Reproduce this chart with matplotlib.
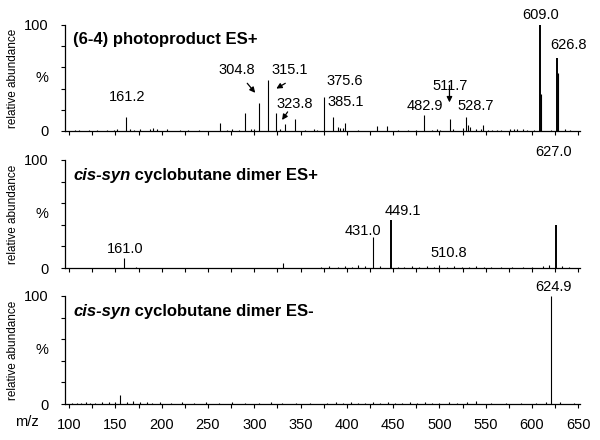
import matplotlib
matplotlib.use('Agg')
import matplotlib.pyplot as plt
from matplotlib.transforms import blended_transform_factory

plt.rcParams['font.family'] = ['Liberation Sans', 'DejaVu Sans']

# ---- data (m/z, relative abundance %) ----
top_mz = [106, 111, 121, 130, 141, 148, 152, 161.2, 166, 170, 177, 187, 191, 195, 206,
          220, 228, 240, 263, 270, 276, 283, 290, 296, 300, 304.8, 315.1, 323.8, 328,
          333, 344, 355, 364, 368, 375.6, 385.1, 390, 393, 396, 398, 412, 432, 443,
          455, 466, 475, 482.9, 492, 497, 501, 511.7, 515, 525, 528.7, 531, 533, 539,
          545, 547, 552, 557, 562, 566, 576, 580, 584, 590, 595, 602, 609.0, 609.8,
          620, 626.8, 627.6, 636, 641]
top_int = [1, 1, 1, 1, 1, 1, 2, 13, 2, 1, 2, 2, 3, 2, 2,
           1, 1, 1, 8, 1, 2, 1, 17, 2, 2, 26, 48, 17, 2,
           7, 11, 1, 2, 1, 32, 13, 4, 3, 3, 8, 1, 5, 5,
           1, 1, 1, 15, 1, 2, 1, 11, 2, 3, 13, 6, 4, 2,
           2, 6, 1, 1, 1, 1, 2, 2, 2, 2, 1, 1, 100, 35,
           1, 69, 55, 2, 1]

mid_mz = [159.5, 172, 331, 372, 381, 390, 398, 405, 412, 420, 428.6, 436, 448, 455,
          462, 470, 478, 486, 494, 500, 508, 516, 524, 532, 540, 548, 556, 566, 578,
          590, 600, 612, 618, 625.5, 632, 640]
mid_int = [9, 1, 5, 1, 2, 1, 2, 1, 3, 2, 29, 2, 44, 1,
           1, 2, 1, 2, 1, 3, 1, 2, 1, 1, 2, 1, 1, 1, 1,
           1, 1, 2, 3, 40, 2, 1]

bot_mz = [103, 108, 113, 118, 123, 128, 136, 143, 150, 155, 162, 169, 177, 184, 190,
          198, 210, 222, 235, 248, 262, 276, 290, 305, 318, 330, 345, 360, 379, 388,
          396, 404, 412, 420, 428, 436, 444, 452, 460, 468, 476, 484, 492, 500, 510,
          519, 530, 540, 556, 572, 588, 604, 615, 621, 630, 645]
bot_int = [1, 1, 1, 2, 1, 1, 2, 2, 2, 8, 2, 3, 2, 2, 1,
           2, 1, 2, 1, 2, 1, 2, 1, 1, 2, 1, 1, 1, 1, 2,
           1, 2, 1, 1, 2, 1, 2, 1, 1, 2, 1, 2, 1, 1, 2,
           1, 2, 3, 1, 1, 1, 1, 2, 100, 2, 1]

thick_peaks = [609.0, 626.8, 448, 625.5]

# label text, x (m/z), y (%)
top_labels = [('161.2', 162.7, 32), ('304.8', 281.5, 58), ('315.1', 338, 58),
              ('323.8', 344, 25), ('375.6', 398, 47), ('385.1', 399, 27),
              ('511.7', 511, 42), ('482.9', 484, 24), ('528.7', 539, 24),
              ('609.0', 609, 109), ('626.8', 639.5, 81)]
mid_labels = [('161.0', 160.5, 18), ('431.0', 417, 34), ('449.1', 460, 53),
              ('510.8', 509.7, 14), ('627.0', 623, 107)]
bot_labels = [('624.9', 623, 108)]

# arrows: (from m/z, from %, to m/z, to %)
top_arrows = [(292.4, 45, 301, 36), (333.5, 45, 323.8, 40),
              (336, 18, 330, 10.4), (510.8, 43, 510.8, 27)]

xticks_major = list(range(100, 651, 50))
xticks_minor = list(range(100, 651, 25))

fig = plt.figure(figsize=(6, 4.4), dpi=100)
rects = [[0.109, 0.7023, 0.858, 0.2409],
         [0.109, 0.3909, 0.858, 0.2455],
         [0.109, 0.0818, 0.858, 0.2455]]
panels = [(top_mz, top_int, top_labels),
          (mid_mz, mid_int, mid_labels),
          (bot_mz, bot_int, bot_labels)]
axes = []
for i, (rect, (mz, inten, labels)) in enumerate(zip(rects, panels)):
    ax = fig.add_axes(rect)
    axes.append(ax)
    for m, v in zip(mz, inten):
        lw = 1.4 if m in thick_peaks else 0.8
        ax.vlines(m, 0, v, color='k', lw=lw)
    for txt, x, y in labels:
        ax.text(x, y, txt, ha='center', va='center', fontsize=10.5, clip_on=False)
    ax.set_xlim(96, 652)
    ax.set_ylim(0, 100)
    for s in ['top', 'right']:
        ax.spines[s].set_visible(False)
    ax.spines['left'].set_linewidth(0.9)
    ax.spines['bottom'].set_linewidth(0.9)
    ax.set_yticks([0, 20, 40, 60, 80, 100])
    ax.set_yticklabels(['0', '', '', '', '', '100'], fontsize=10.5)
    ax.tick_params(axis='y', length=3, width=0.8, pad=9)
    ax.text(-0.033, 0.5, '%', transform=ax.transAxes, ha='right', va='center', fontsize=10.5)
    trans = blended_transform_factory(fig.transFigure, ax.transAxes)
    ax.text(0.021, 0.5, 'relative abundance', transform=trans, rotation=90,
            ha='center', va='center', fontsize=8.5)
    ax.set_xticks(xticks_major)
    ax.set_xticks(xticks_minor, minor=True)
    ax.tick_params(axis='x', which='both', length=3, width=0.8, direction='out')
    if i < 2:
        ax.set_xticklabels([])
    else:
        ax.set_xticklabels([str(t) for t in xticks_major], fontsize=10.5)
        ax.tick_params(axis='x', pad=7)

axes[0].text(0.015, 0.86, '(6-4) photoproduct ES+', transform=axes[0].transAxes,
             fontsize=12, fontweight='bold', va='center')
for ax in axes[1:]:
    t1 = ax.text(0.015, 0.86, 'cis-syn', transform=ax.transAxes, fontsize=12,
                 fontweight='bold', style='italic', va='center')
    sign = '+' if ax is axes[1] else '-'
    ax.annotate(' cyclobutane dimer ES' + sign, xy=(1, 0), xycoords=t1,
                fontsize=12, fontweight='bold', va='bottom', ha='left')

for x0, y0, x1, y1 in top_arrows:
    axes[0].annotate('', xy=(x1, y1), xytext=(x0, y0),
                     arrowprops=dict(arrowstyle='-|>', color='k', lw=0.9,
                                     mutation_scale=8, shrinkA=0, shrinkB=0))

fig.text(0.025, 0.041, 'm/z', fontsize=10.5, va='center')

fig.savefig('out.png', dpi=100)
